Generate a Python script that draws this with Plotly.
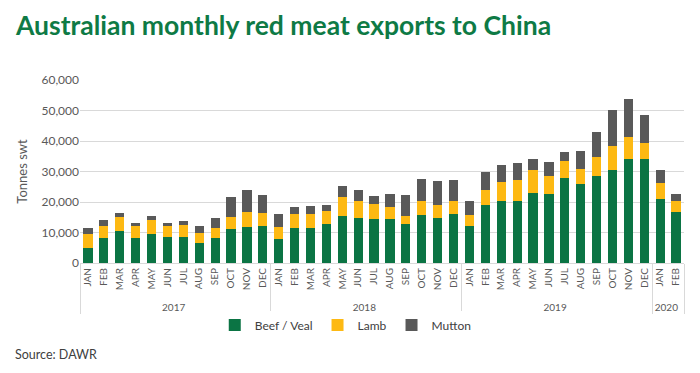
import plotly.graph_objects as go

years = ["2017"] * 12 + ["2018"] * 12 + ["2019"] * 12 + ["2020"] * 2
months = ["JAN", "FEB", "MAR", "APR", "MAY", "JUN", "JUL", "AUG", "SEP", "OCT", "NOV", "DEC"] * 3 + ["JAN", "FEB"]

beef = [5050, 8350, 10550, 8130, 9670, 8680, 8680, 6480, 8130, 11210, 11650, 11980,
        7910, 11430, 11430, 12640, 15490, 14840, 14400, 14400, 12750, 15820, 14620, 16040,
        12240, 19020, 20440, 20440, 22950, 22620, 27980, 25900, 28520, 30600, 34100, 34100,
        20980, 16610]
lamb = [4400, 3850, 4400, 3960, 4400, 3520, 3850, 3410, 3300, 3950, 5050, 4500,
        3960, 4720, 4500, 4390, 6160, 5600, 4830, 3950, 2630, 4400, 4390, 4180,
        3390, 5020, 6230, 6880, 7430, 5900, 5570, 5030, 6120, 7760, 7320, 5240,
        5250, 3830]
mutton = [1980, 1870, 1530, 1100, 1200, 990, 1100, 2090, 3300, 6600, 7370, 5830,
          4170, 2310, 2640, 2090, 3510, 3410, 2750, 4290, 6930, 7250, 8020, 7030,
          4810, 5910, 5570, 5580, 3720, 4590, 2730, 5790, 8310, 11910, 12460, 9080,
          4260, 2290]

series = [("Beef / Veal", beef, "#0b7444"), ("Lamb", lamb, "#fdb913"), ("Mutton", mutton, "#595959")]

W, H = 692, 365
L, R, T, B = 72, 16, 72, 110
PW, PH = W - L - R, H - T - B

fig = go.Figure()
for name, vals, color in series:
    fig.add_trace(go.Bar(x=[years, months], y=vals, name=name, marker_color=color,
                         marker_line_width=0))

fig.update_layout(
    barmode="stack",
    bargap=0.42,
    width=W, height=H,
    margin=dict(l=L, r=R, t=T, b=B),
    paper_bgcolor="white", plot_bgcolor="white",
    font=dict(family="Lato", color="#595959", size=11),
    title=dict(text="<b>Australian monthly red meat exports to China</b>",
               x=8 / W, xanchor="left", xref="container",
               y=1 - 18 / H, yanchor="middle", yref="container",
               font=dict(family="Lato", size=26.5, color="#0e7a45")),
    legend=dict(orientation="h", x=0.44, xanchor="center", y=-(325 - 263) / PH, yanchor="middle",
                font=dict(size=12, color="#404040"), itemwidth=30, traceorder="normal"),
    showlegend=True,
)
fig.update_yaxes(range=[0, 60000], dtick=10000, tickformat=",", showgrid=True,
                 gridcolor="#d9d9d9", gridwidth=1, zeroline=False,
                 title=dict(text="Tonnes swt", font=dict(size=13, color="#595959"), standoff=10),
                 tickfont=dict(size=12, color="#595959"), ticks="", ticklen=0)
fig.update_xaxes(type="multicategory", tickangle=-90, tickfont=dict(size=10, color="#595959"),
                 showline=True, linecolor="#d9d9d9", linewidth=1,
                 showdividers=True, dividercolor="#d9d9d9", dividerwidth=1, ticks="")
fig.add_annotation(text="Source: DAWR", xref="paper", yref="paper", x=(5 - L) / PW,
                   xanchor="left", y=-(354 - 263) / PH, yanchor="middle", showarrow=False,
                   font=dict(size=12.5, color="#404040"))
fig.write_html("out.html")
